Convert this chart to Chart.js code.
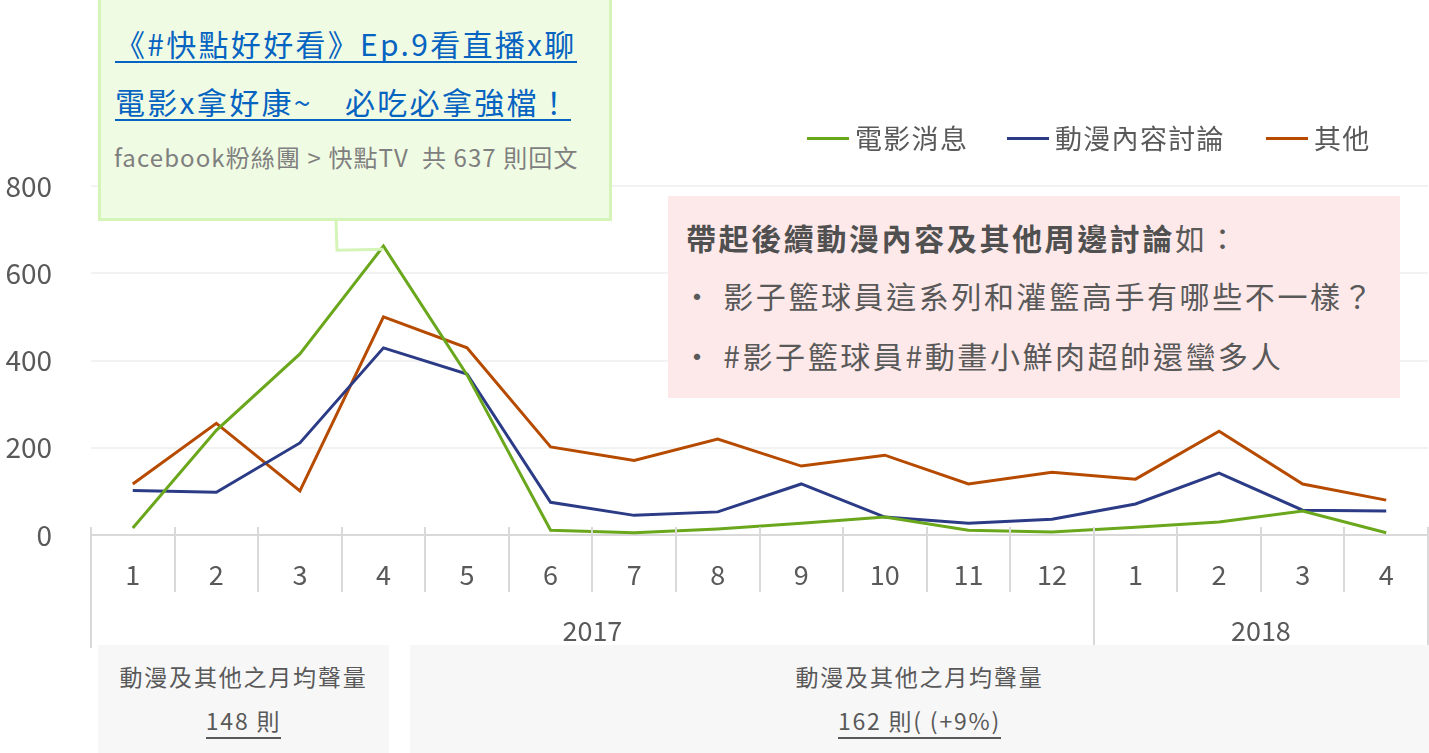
<!DOCTYPE html>
<html>
<head>
<meta charset="utf-8">
<script src="https://cdn.jsdelivr.net/npm/chart.js@4.4.1/dist/chart.umd.min.js"></script>
<style>
  body { margin: 0; background: #fff; font-family: "Noto Sans CJK TC", "Noto Sans", sans-serif; }
  #wrap { position: relative; width: 1429px; height: 753px; overflow: hidden; }
  #chart { position: absolute; left: 0; top: 0; }
  .box { position: absolute; box-sizing: border-box; }
  #note { left: 98px; top: -4px; width: 514px; height: 225px; background: #f0fbe3; border: 3px solid #d5f4b8; }
  #note .t { position: absolute; left: 14px; color: #0563c1; font-size: 30px; letter-spacing: 2.3px; line-height: 36px; border-bottom: 2px solid #0563c1; white-space: nowrap; }
  #note .s { position: absolute; left: 13px; top: 140px; color: #7f7f7f; font-size: 24px; letter-spacing: 1.1px; white-space: nowrap; }
  #pink { left: 668px; top: 196px; width: 732px; height: 202px; background: #fde9e9; color: #595959; font-size: 30px; letter-spacing: 2.6px; }
  #pink div { position: absolute; left: 18px; white-space: nowrap; }
  #pink b { color: #505050; }
  .lg { position: absolute; top: 118px; font-size: 27px; letter-spacing: 1.3px; color: #595959; white-space: nowrap; }
  .lg span { position: absolute; top: 19px; width: 42px; height: 3px; }
  .gray { top: 645px; height: 108px; background: #f7f7f7; color: #595959; font-size: 23px; letter-spacing: 1.8px; text-align: center; }
  .gray .a { position: absolute; left: 0; right: 0; top: 14px; }
  .gray .b { position: absolute; left: 0; right: 0; top: 58px; }
  .gray .b span { border-bottom: 2px solid #595959; }
</style>
</head>
<body>
<div id="wrap">
  <canvas id="chart" width="1429" height="753"></canvas>
  <div class="box gray" style="left:98px;width:291px;"><div class="a">動漫及其他之月均聲量</div><div class="b"><span>148 則</span></div></div>
  <div class="box gray" style="left:410px;width:1019px;"><div class="a">動漫及其他之月均聲量</div><div class="b"><span>162 則( (+9%)</span></div></div>
  <div class="box" id="note">
    <div class="t" style="top:26px;">《#快點好好看》Ep.9看直播x聊</div>
    <div class="t" style="top:84px;">電影x拿好康~　必吃必拿強檔！</div>
    <div class="s">facebook粉絲團 &gt; 快點TV&nbsp; 共 637 則回文</div>
  </div>
  <div class="box" id="pink">
    <div style="top:19px;"><b>帶起後續動漫內容及其他周邊討論</b>如：</div>
    <div style="top:77px;left:14px;">•&thinsp;影子籃球員這系列和灌籃高手有哪些不一樣？</div>
    <div style="top:137px;left:14px;">•&thinsp;#影子籃球員#動畫小鮮肉超帥還蠻多人</div>
  </div>
</div>
<script>
const months = ['1', '2', '3', '4', '5', '6', '7', '8', '9', '10', '11', '12', '1', '2', '3', '4'];
const years = [
  { label: '2017', from: 0, to: 11 },
  { label: '2018', from: 12, to: 15 }
];
const movieNews = [16, 240, 415, 662, 367, 11, 5, 14, 27, 41, 11, 7, 18, 30, 55, 5];
const animeTalk = [102, 98, 211, 429, 369, 75, 45, 53, 117, 41, 27, 36, 71, 142, 57, 55];
const others = [117, 256, 101, 500, 429, 202, 171, 220, 158, 183, 117, 144, 128, 238, 117, 80];
const yTicks = [0, 200, 400, 600, 800];

const seriesNames = ['電影消息', '動漫內容討論', '其他'];
const seriesColors = ['#6aa71c', '#2b3b86', '#b64b00'];
const legendLeft = [807, 1007, 1266];

// legend as html
const wrap = document.getElementById('wrap');
seriesNames.forEach((name, i) => {
  const item = document.createElement('div');
  item.className = 'lg';
  item.style.left = (legendLeft[i] + 48) + 'px';
  item.innerHTML = '<span style="left:-48px;background:' + seriesColors[i] + '"></span>' + name;
  wrap.appendChild(item);
});

// category separators + year labels under the x axis
const separatorPlugin = {
  id: 'separators',
  afterDraw(chart) {
    const ctx = chart.ctx;
    const x = chart.scales.x;
    const y0 = chart.scales.y.getPixelForValue(0);
    const half = (x.getPixelForValue(1) - x.getPixelForValue(0)) / 2;
    ctx.save();
    ctx.strokeStyle = '#d9d9d9';
    ctx.lineWidth = 2;
    for (let i = 0; i <= months.length; i++) {
      const px = Math.round(x.getPixelForValue(i) - half);
      const isYear = years.some(yr => yr.from === i) || i === months.length;
      ctx.beginPath();
      ctx.moveTo(px, y0 - 8);
      ctx.lineTo(px, isYear ? y0 + 113 : y0 + 57);
      ctx.stroke();
    }
    ctx.fillStyle = '#595959';
    ctx.font = '27px "Noto Sans CJK TC"';
    ctx.textAlign = 'center';
    ctx.textBaseline = 'middle';
    years.forEach(yr => {
      const cx = (x.getPixelForValue(yr.from) + x.getPixelForValue(yr.to)) / 2;
      ctx.fillText(yr.label, cx, y0 + 96);
    });
    // connector from the note box to the peak
    const peakX = x.getPixelForValue(3);
    const peakY = chart.scales.y.getPixelForValue(movieNews[3]);
    ctx.strokeStyle = '#d5f4b8';
    ctx.lineWidth = 3;
    ctx.beginPath();
    ctx.moveTo(336, 220);
    ctx.lineTo(337, peakY + 4);
    ctx.lineTo(peakX, peakY + 3);
    ctx.stroke();
    ctx.restore();
  }
};

new Chart(document.getElementById('chart'), {
  type: 'line',
  data: {
    labels: months,
    datasets: seriesNames.map((name, i) => ({
      label: name,
      data: [movieNews, animeTalk, others][i],
      borderColor: seriesColors[i],
      borderWidth: 3,
      pointRadius: 0,
      tension: 0,
      fill: false
    }))
  },
  options: {
    responsive: false,
    animation: false,
    layout: { padding: { top: 186, right: 1, left: 0, bottom: 0 } },
    plugins: { legend: { display: false }, tooltip: { enabled: false } },
    scales: {
      x: {
        offset: true,
        grid: { display: false },
        border: { display: false },
        ticks: { color: '#595959', font: { size: 27, family: 'Noto Sans CJK TC' }, padding: 16, maxRotation: 0, autoSkip: false },
        afterFit(scale) { scale.height = 218; }
      },
      y: {
        min: 0,
        max: 800,
        afterBuildTicks(scale) { scale.ticks = yTicks.map(v => ({ value: v })); },
        grid: {
          drawTicks: false,
          color: ctx => ctx.tick && ctx.tick.value === 0 ? '#d9d9d9' : '#f2f2f2',
          lineWidth: 2
        },
        border: { display: false },
        ticks: { color: '#595959', font: { size: 28, family: 'Noto Sans CJK TC' }, padding: 39 },
        afterFit(scale) { scale.width = 91; }
      }
    }
  },
  plugins: [separatorPlugin]
});
</script>
</body>
</html>
